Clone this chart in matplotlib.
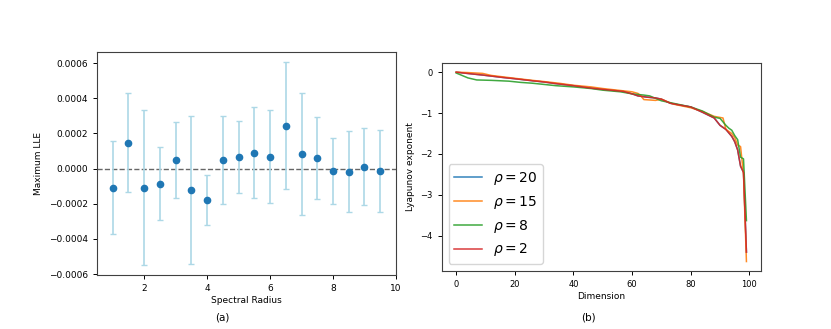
import numpy as np
import matplotlib as mpl
import matplotlib.pyplot as plt

mpl.rcParams.update({
    "font.family": "DejaVu Sans",
    "font.size": 6.5,
    "axes.linewidth": 0.8,
    "axes.edgecolor": "0.25",
})

# ---------------- panel (a): maximum LLE vs spectral radius ----------------
radius = [1.0, 1.5, 2.0, 2.5, 3.0, 3.5, 4.0, 4.5, 5.0, 5.5, 6.0, 6.5, 7.0,
          7.5, 8.0, 8.5, 9.0, 9.5]
lle_mean = [-0.000108, 0.000148, -0.000108, -0.000085, 0.000048, -0.000123,
            -0.000180, 0.000051, 0.000065, 0.000091, 0.000068, 0.000245,
            0.000084, 0.000059, -0.000015, -0.000017, 0.000011, -0.000013]
lle_err = [0.000265, 0.000280, 0.000440, 0.000206, 0.000217, 0.000420,
           0.000143, 0.000251, 0.000205, 0.000259, 0.000263, 0.000361,
           0.000349, 0.000234, 0.000188, 0.000232, 0.000220, 0.000232]

# ---------------- panel (b): Lyapunov spectra ----------------
dim_r20 = [0, 5, 9, 16, 20, 26, 30, 34, 40, 46, 50, 57, 60, 62, 65, 68, 70,
           73, 76, 80, 84, 86, 88, 90, 92, 94, 95, 96, 97, 98, 99]
val_r20 = [0.0, -0.04, -0.07, -0.13, -0.16, -0.21, -0.24, -0.28, -0.33,
           -0.39, -0.42, -0.47, -0.53, -0.58, -0.61, -0.63, -0.66, -0.76,
           -0.80, -0.85, -0.98, -1.05, -1.12, -1.30, -1.40, -1.57, -1.70,
           -1.90, -2.30, -2.45, -4.40]

dim_r15 = [0, 4, 9, 12, 20, 26, 30, 35, 40, 46, 50, 55, 60, 62, 63, 64, 68,
           70, 74, 80, 84, 88, 91, 92, 94, 95, 96, 97, 98, 99]
val_r15 = [0.0, -0.01, -0.03, -0.08, -0.15, -0.20, -0.23, -0.27, -0.32,
           -0.36, -0.40, -0.44, -0.48, -0.52, -0.58, -0.67, -0.69, -0.66,
           -0.78, -0.87, -0.96, -1.08, -1.12, -1.40, -1.50, -1.60, -1.78,
           -1.82, -2.50, -4.63]

dim_r8 = [0, 2, 4, 7, 12, 18, 22, 26, 30, 34, 40, 46, 50, 56, 60, 64, 66,
          70, 74, 80, 84, 88, 90, 92, 93, 94, 95, 96, 97, 98, 99]
val_r8 = [-0.02, -0.08, -0.14, -0.19, -0.20, -0.22, -0.25, -0.27, -0.30,
          -0.33, -0.36, -0.40, -0.44, -0.48, -0.53, -0.56, -0.58, -0.70,
          -0.76, -0.85, -0.95, -1.10, -1.13, -1.30, -1.37, -1.42, -1.55,
          -1.65, -2.08, -2.12, -3.63]

dim_r2 = [0, 5, 9, 16, 20, 26, 30, 34, 40, 46, 50, 57, 60, 62, 65, 68, 70,
          73, 76, 80, 84, 86, 88, 90, 92, 94, 95, 96, 97, 98, 99]
val_r2 = [0.0, -0.04, -0.07, -0.13, -0.16, -0.21, -0.24, -0.28, -0.33,
          -0.39, -0.42, -0.47, -0.53, -0.58, -0.61, -0.63, -0.66, -0.76,
          -0.80, -0.85, -0.98, -1.05, -1.12, -1.30, -1.40, -1.57, -1.70,
          -1.90, -2.30, -2.45, -4.40]

spectra = [
    (dim_r20, val_r20, r"$\rho = 20$", "#1f77b4"),
    (dim_r15, val_r15, r"$\rho = 15$", "#ff7f0e"),
    (dim_r8, val_r8, r"$\rho = 8$", "#2ca02c"),
    (dim_r2, val_r2, r"$\rho = 2$", "#d62728"),
]

fig = plt.figure(figsize=(8.31, 3.29), dpi=100)

ax1 = fig.add_axes([0.1167, 0.1641, 0.3598, 0.6778])
ax1.errorbar(radius, lle_mean, yerr=lle_err, fmt="o", color="#1f77b4",
             ecolor="lightblue", elinewidth=1.2, capsize=2, markersize=4.5,
             zorder=3)
ax1.axhline(0, color="0.4", lw=1.0, ls="--", zorder=2)
ax1.set_xlim(0.5, 10)
ax1.set_xticks([2, 4, 6, 8, 10])
ax1.set_yticks([-0.0006, -0.0004, -0.0002, 0.0, 0.0002, 0.0004, 0.0006])
ax1.set_yticklabels(["\u22120.0006", "\u22120.0004", "\u22120.0002", "0.0000",
                     "0.0002", "0.0004", "0.0006"])
ax1.set_xlabel("Spectral Radius", fontsize=6.5, labelpad=2)
ax1.set_ylabel("Maximum LLE", fontsize=6.5)
ax1.tick_params(labelsize=6.5, length=3, width=0.7)

ax2 = fig.add_axes([0.5315, 0.1763, 0.3842, 0.6331])
for d, v, lab, col in spectra:
    ax2.plot(d, v, color=col, lw=1.1, label=lab, alpha=0.9)
ax2.set_xticks([0, 20, 40, 60, 80, 100])
ax2.set_yticks([0, -1, -2, -3, -4])
ax2.set_xlabel("Dimension", fontsize=6.5, labelpad=2)
ax2.set_ylabel("Lyapunov exponent", fontsize=6.5)
ax2.tick_params(labelsize=6.0, length=3, width=0.7)
ax2.legend(loc="lower left", fontsize=10, handlelength=2.0)

fig.text(0.267, 0.036, "(a)", ha="center", va="center", fontsize=7.5)
fig.text(0.708, 0.036, "(b)", ha="center", va="center", fontsize=7.5)

fig.savefig("out.png", dpi=100)
